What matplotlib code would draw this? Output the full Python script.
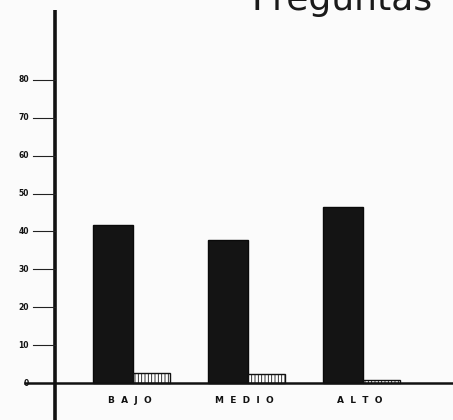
import matplotlib
matplotlib.use("Agg")
import matplotlib.pyplot as plt

# datos
categorias = ["BAJO", "MEDIO", "ALTO"]
etiquetas = ["B  A  J  O", "M  E  D  I  O", "A  L  T  O"]
valores_negro = [41.7, 37.7, 46.4]
valores_rayado = [2.6, 2.4, 0.8]
marcas_y = [0, 10, 20, 30, 40, 50, 60, 70, 80]

plt.rcParams["hatch.linewidth"] = 0.6

fig = plt.figure(figsize=(4.53, 4.2), dpi=100, facecolor="#fbfbfb")
ax = fig.add_axes([0, 0, 1, 1])
ax.set_facecolor("#fbfbfb")

# escala: 0 en y=383 px, 3.79 px por unidad; categorias cada 115 px
ax.set_ylim(-(420 - 383) / 3.79, 383 / 3.79)
ax.set_xlim(-133 / 115, (453 - 133) / 115)
for s in ax.spines.values():
    s.set_visible(False)
ax.set_xticks([])
ax.set_yticks([])

x = list(range(len(categorias)))
ancho_n = 40 / 115
ancho_r = 37 / 115
ax.bar(x, valores_negro, width=-ancho_n, align="edge", color="#141414",
       edgecolor="#0a0a0a", zorder=3)
ax.bar(x, valores_rayado, width=ancho_r, align="edge", color="white",
       edgecolor="#111111", hatch="|||||", linewidth=1.0, zorder=3)

# ejes dibujados a mano
x_eje = (55 - 133) / 115
ax.plot([x_eje, x_eje], [-10, (383 - 10) / 3.79], color="#111111", lw=2.6,
        solid_capstyle="butt", zorder=4)
ax.plot([(25 - 133) / 115, 3.0], [0, 0], color="#111111", lw=1.8, zorder=4)

for v in marcas_y:
    if v > 0:
        ax.plot([(33 - 133) / 115, x_eje], [v, v], color="#222222", lw=0.8,
                zorder=4)
    ax.text((29 - 133) / 115, v, str(v), ha="right", va="center",
            fontsize=5.5, fontweight="bold", color="#111111")

for i, lab in enumerate(etiquetas):
    ax.text(x[i] - 0.03, -4.5, lab, ha="center", va="center", fontsize=6.5,
            fontweight="bold", color="#111111")

fig.text(342 / 453, 1 - 10 / 420, "Preguntas", ha="center", va="baseline",
         fontsize=26, color="#1a1a1a")

fig.savefig("out.png", dpi=100, facecolor=fig.get_facecolor())
